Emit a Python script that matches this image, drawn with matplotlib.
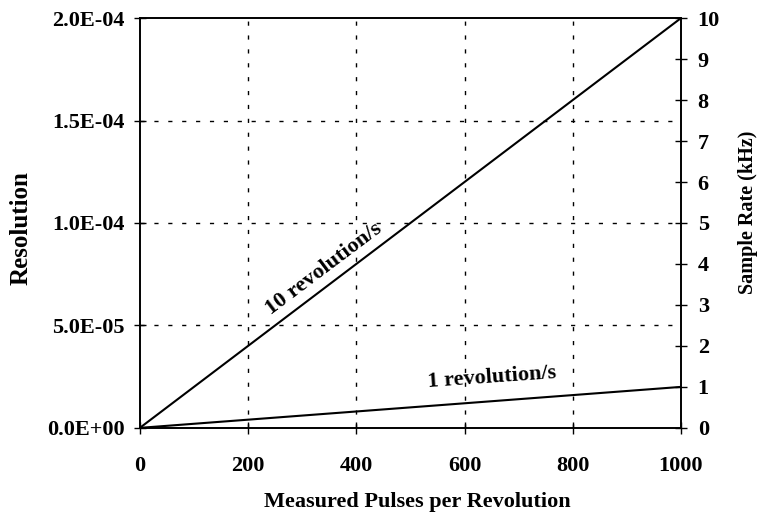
import numpy as np
import matplotlib
matplotlib.use("Agg")
import matplotlib.pyplot as plt

# data
pulses = [0, 1000]
rate_10 = [0, 10]   # kHz, 10 revolution/s
rate_1 = [0, 1]     # kHz, 1 revolution/s
x_ticks = [0, 200, 400, 600, 800, 1000]
res_ticks = [0, 5e-5, 1e-4, 1.5e-4, 2e-4]
res_labels = ['0.0E+00', '5.0E-05', '1.0E-04', '1.5E-04', '2.0E-04']
rate_ticks = list(range(0, 11))

plt.rcParams['font.family'] = ['Liberation Serif', 'DejaVu Serif']
plt.rcParams['font.weight'] = 'bold'
FS = 16

fig = plt.figure(figsize=(7.6, 5.18), dpi=100)
ax = fig.add_axes([0.184, 0.174, 0.712, 0.791])
ax2 = ax.twinx()

ax.set_xlim(0, 1000)
ax.set_ylim(0, 2e-4)
ax2.set_ylim(0, 10)

ax.set_xticks(x_ticks)
ax.set_xticklabels([str(v) for v in x_ticks], fontsize=FS, fontweight='bold')
ax.set_yticks(res_ticks)
ax.set_yticklabels(res_labels, fontsize=FS, fontweight='bold')
ax2.set_yticks(rate_ticks)
ax2.set_yticklabels([str(v) for v in rate_ticks], fontsize=FS, fontweight='bold')

ax.tick_params(axis='x', direction='inout', length=8, width=1, pad=16)
ax.tick_params(axis='y', direction='inout', length=8, width=1, pad=7)
ax2.tick_params(axis='y', direction='inout', length=8, width=1, pad=8)

# grid
for xv in x_ticks[1:-1]:
    ax.axvline(xv, color='black', lw=1, ls=(0, (3, 7)))
for yv in res_ticks[1:-1]:
    ax.axhline(yv, color='black', lw=1, ls=(0, (3, 7)))

ax2.plot(pulses, rate_10, color='black', lw=1.5)
ax2.plot(pulses, rate_1, color='black', lw=1.5)

ax2.text(341, 3.88, '10 revolution/s', rotation=37, ha='center', va='center',
         fontsize=FS, fontweight='bold')
ax2.text(651, 1.24, '1 revolution/s', rotation=4, ha='center', va='center',
         fontsize=FS, fontweight='bold')

for a in (ax, ax2):
    for s in a.spines.values():
        s.set_linewidth(1.2)

ax.set_xlabel('Measured Pulses per Revolution', fontsize=FS, fontweight='bold')
ax.xaxis.set_label_coords(0.512, -0.157)
ax.set_ylabel('Resolution', fontsize=18, fontweight='bold')
ax.yaxis.set_label_coords(-0.198, 0.488)
ax2.set_ylabel('Sample Rate (kHz)', fontsize=14.5, fontweight='bold')
ax2.yaxis.set_label_coords(1.105, 0.527)

fig.savefig('out.png', dpi=100)
